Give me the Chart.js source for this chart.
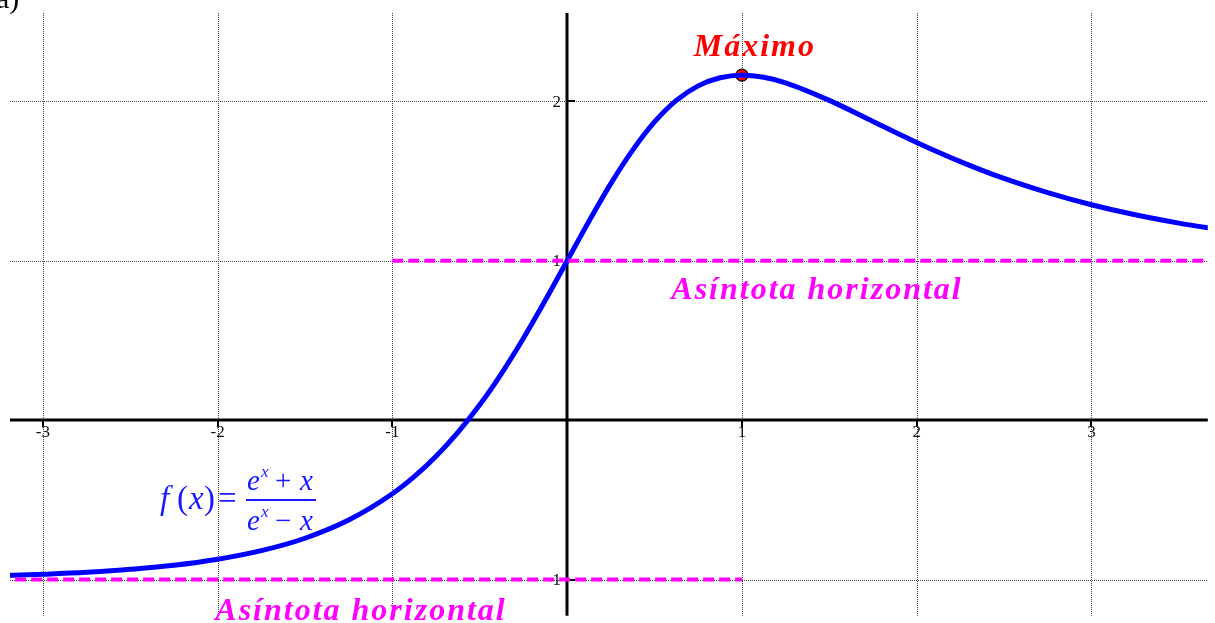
<!DOCTYPE html>
<html>
<head>
<meta charset="utf-8">
<script src="https://cdn.jsdelivr.net/npm/chart.js@4/dist/chart.umd.min.js"></script>
<style>
  html, body { margin: 0; padding: 0; background: #fff; overflow: hidden; }
  canvas { display: block; }
</style>
</head>
<body>
<canvas id="graph" width="1215" height="623"></canvas>
<script>
/* Data */

const xValues = [-3.25, -3, -2.75, -2.5, -2.25, -2, -1.75, -1.5, -1.25, -1, -0.875, -0.75, -0.625, -0.5,
  -0.375, -0.25, -0.125, 0, 0.125, 0.25, 0.375, 0.5, 0.625, 0.75, 0.875, 1, 1.125, 1.25, 1.5, 1.75,
  2, 2.25, 2.5, 2.75, 3, 3.25, 3.5, 3.75];
const fValues = [-0.976, -0.967, -0.955, -0.936, -0.911, -0.873, -0.819, -0.741, -0.627, -0.462, -0.355, -0.227, -0.077, 0.096,
  0.294, 0.514, 0.752, 1, 1.248, 1.484, 1.694, 1.871, 2.006, 2.097, 2.148, 2.164, 2.151, 2.116, 2.006, 1.874,
  1.742, 1.622, 1.516, 1.427, 1.351, 1.288, 1.236, 1.193];

const upperAsymptoteX = [-1, 3.75];
const upperAsymptoteY = [1, 1];
const lowerAsymptoteX = [-3.25, 1];
const lowerAsymptoteY = [-1, -1];

const maxPoint = { x: 1, y: 2.164 };

const xTicks = [-3, -2, -1, 1, 2, 3];
const yTicks = [-1, 1, 2];

const xRange = [-3.188, 3.666];
const yRange = [-1.2275, 2.554];

const toPoints = (xs, ys) => xs.map((x, i) => ({ x: x, y: ys[i] }));

/* Grid, axes and labels drawn in GeoGebra style */

const geoAxes = {
  id: "geoAxes",
  beforeDatasetsDraw(chart) {
    const { ctx, chartArea, scales } = chart;
    const x = scales.x, y = scales.y;
    const x0 = Math.round(x.getPixelForValue(0));
    const y0 = Math.round(y.getPixelForValue(0));

    ctx.save();
    ctx.strokeStyle = "#444";
    ctx.lineWidth = 1;
    ctx.setLineDash([1, 1]);
    xTicks.forEach(t => {
      const px = Math.round(x.getPixelForValue(t)) + 0.5;
      ctx.beginPath();
      ctx.moveTo(px, chartArea.top);
      ctx.lineTo(px, chartArea.bottom);
      ctx.stroke();
    });
    yTicks.forEach(t => {
      const py = Math.round(y.getPixelForValue(t)) + 0.5;
      ctx.beginPath();
      ctx.moveTo(chartArea.left, py);
      ctx.lineTo(chartArea.right, py);
      ctx.stroke();
    });

    ctx.setLineDash([]);
    ctx.strokeStyle = "#000";
    ctx.lineWidth = 3;
    ctx.beginPath();
    ctx.moveTo(chartArea.left, y0);
    ctx.lineTo(chartArea.right, y0);
    ctx.moveTo(x0, chartArea.top);
    ctx.lineTo(x0, chartArea.bottom);
    ctx.stroke();

    ctx.lineWidth = 2;
    xTicks.forEach(t => {
      const px = Math.round(x.getPixelForValue(t));
      ctx.beginPath();
      ctx.moveTo(px, y0);
      ctx.lineTo(px, y0 + 7);
      ctx.stroke();
    });
    yTicks.forEach(t => {
      const py = Math.round(y.getPixelForValue(t));
      ctx.beginPath();
      ctx.moveTo(x0, py);
      ctx.lineTo(x0 + 8, py);
      ctx.stroke();
    });

    ctx.fillStyle = "#111";
    ctx.font = "17px 'Liberation Serif'";
    ctx.textAlign = "center";
    ctx.textBaseline = "top";
    xTicks.forEach(t => {
      ctx.fillText(String(t), x.getPixelForValue(t), y0 + 4);
    });
    ctx.textAlign = "right";
    ctx.textBaseline = "middle";
    yTicks.forEach(t => {
      ctx.fillText(String(t), x0 - 6, y.getPixelForValue(t) + 1);
    });
    ctx.restore();
  },
  afterDraw(chart) {
    const { ctx, scales } = chart;
    const x = scales.x;

    ctx.save();
    ctx.textBaseline = "alphabetic";
    ctx.textAlign = "left";
    ctx.fillStyle = "#000";
    ctx.font = "30px 'Liberation Serif'";
    ctx.fillText("a)", -4, 8);

    ctx.textAlign = "center";
    ctx.letterSpacing = "2px";
    ctx.fillStyle = "#ff0000";
    ctx.font = "bold italic 32px 'Liberation Serif'";
    ctx.fillText("Máximo", x.getPixelForValue(maxPoint.x) + 13, 56);

    ctx.fillStyle = "#ff00ff";
    ctx.fillText("Asíntota horizontal", 817, 299);
    ctx.fillText("Asíntota horizontal", 361, 620);
    ctx.letterSpacing = "0px";

    // formula label
    ctx.fillStyle = "#1a1aff";
    ctx.textAlign = "left";
    ctx.font = "italic 33px 'Liberation Serif'";
    ctx.fillText("f", 160, 509);
    ctx.font = "33px 'Liberation Serif'";
    ctx.fillText("(", 177, 509);
    ctx.font = "italic 33px 'Liberation Serif'";
    ctx.fillText("x", 189, 509);
    ctx.font = "33px 'Liberation Serif'";
    ctx.fillText(")", 204, 509);
    ctx.fillText("=", 218, 509);

    ctx.font = "italic 29px 'Liberation Serif'";
    ctx.fillText("e", 247, 490);
    ctx.fillText("e", 247, 530);
    ctx.font = "italic 17px 'Liberation Serif'";
    ctx.fillText("x", 261, 477);
    ctx.fillText("x", 261, 517);
    ctx.font = "29px 'Liberation Serif'";
    ctx.fillText("+", 275, 490);
    ctx.fillText("\u2212", 275, 530);
    ctx.font = "italic 29px 'Liberation Serif'";
    ctx.fillText("x", 300, 490);
    ctx.fillText("x", 300, 530);

    ctx.fillRect(246, 499, 70, 2);
    ctx.restore();
  }
};

new Chart(document.querySelector("#graph"), {
  type: "line",
  data: {
    datasets: [
      {
        label: "upper asymptote",
        data: toPoints(upperAsymptoteX, upperAsymptoteY),
        borderColor: "#ff00ff",
        borderWidth: 4,
        borderDash: [11, 5],
        pointRadius: 0,
        clip: 0
      },
      {
        label: "lower asymptote",
        data: toPoints(lowerAsymptoteX, lowerAsymptoteY),
        borderColor: "#ff00ff",
        borderWidth: 4,
        borderDash: [11, 5],
        pointRadius: 0,
        clip: 0
      },
      {
        label: "f(x)",
        data: toPoints(xValues, fValues),
        borderColor: "#0000ff",
        borderWidth: 5,
        cubicInterpolationMode: "monotone",
        pointRadius: 0,
        clip: 0
      },
      {
        label: "Máximo",
        data: [maxPoint],
        showLine: false,
        pointRadius: 6,
        pointBackgroundColor: "#ff0000",
        pointBorderColor: "#000",
        pointBorderWidth: 1.2
      }
    ]
  },
  options: {
    responsive: false,
    animation: false,
    devicePixelRatio: 1,
    layout: {
      padding: { left: 10, top: 13, right: 0, bottom: 0 }
    },
    plugins: {
      legend: { display: false },
      tooltip: { enabled: false }
    },
    scales: {
      x: { type: "linear", min: xRange[0], max: xRange[1], display: false },
      y: { type: "linear", min: yRange[0], max: yRange[1], display: false }
    }
  },
  plugins: [geoAxes]
});
</script>
</body>
</html>
